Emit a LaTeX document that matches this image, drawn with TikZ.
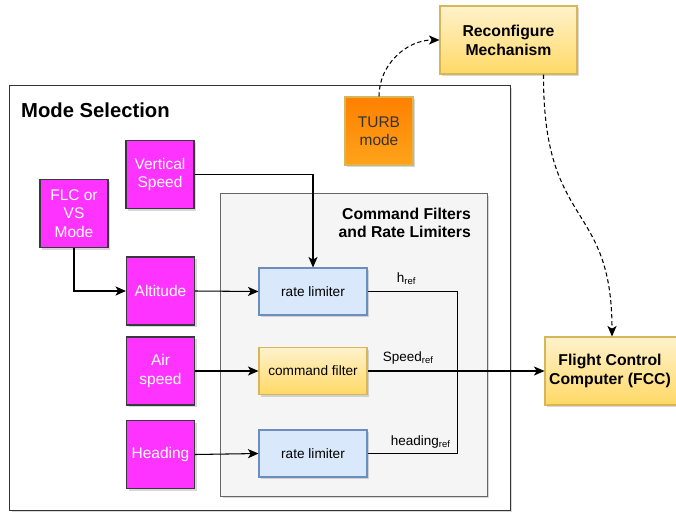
\documentclass[tikz,border=0pt]{standalone}
\usepackage{fontspec}
\setmainfont{Liberation Sans}
\usetikzlibrary{arrows.meta,calc,shadows}

\definecolor{modemag}{HTML}{FF33FF}
\definecolor{magline}{HTML}{36393D}
\definecolor{turbtop}{HTML}{FF8000}
\definecolor{turbbot}{HTML}{FFA31A}
\definecolor{yeltop}{HTML}{FFF2CC}
\definecolor{yelbot}{HTML}{FFD966}
\definecolor{yelline}{HTML}{D6B656}
\definecolor{bluefill}{HTML}{DAE8FC}
\definecolor{blueline}{HTML}{6C8EBF}
\definecolor{grayfill}{HTML}{F5F5F5}
\definecolor{grayline}{HTML}{666666}
\definecolor{txtdark}{HTML}{333333}

\begin{document}
\begin{tikzpicture}[
  x=0.025cm, y=-0.025cm,
  line width=0.75pt,
  boxshadow/.style={drop shadow={shadow xshift=1.6pt, shadow yshift=-1.6pt, opacity=0.3}},
  magbox/.style={draw=magline, fill=modemag, boxshadow, text=white, align=center,
    minimum width=1.7cm, minimum height=1.7cm, inner sep=1pt,
    font=\fontsize{11}{13}\selectfont},
  yelbox/.style={draw=yelline, top color=yeltop, bottom color=yelbot, boxshadow,
    align=center, font=\bfseries\fontsize{11.2}{13.5}\selectfont},
  ratebox/.style={draw=blueline, fill=bluefill, boxshadow,
    minimum width=2.7cm, minimum height=1.175cm, font=\fontsize{9.7}{12}\selectfont},
  sig/.style={font=\fontsize{9.6}{12}\selectfont, inner sep=1pt},
  arr/.style={-{Stealth[length=7.5pt,width=6.5pt,inset=2pt]}},
  dasharr/.style={arr, dashed, dash pattern=on 3pt off 2pt}
]
\useasboundingbox (0,0) rectangle (676,513);

% outer frames
\node[draw=black!80, fill=white, boxshadow, minimum width=12.5cm, minimum height=10.6cm] (mode) at (260,298) {};
\node[anchor=west, font=\bfseries\fontsize{14.4}{17}\selectfont] (modetitle) at (16,110) {Mode Selection};
\node[draw=grayline, fill=grayfill, boxshadow, minimum width=6.65cm, minimum height=7.55cm] (filters) at (354,345) {};
\node[anchor=east, align=right, font=\bfseries\fontsize{11.2}{12.5}\selectfont] (filtertitle) at (476,223) {Command Filters\\and Rate Limiters};

% top blocks
\node[yelbox, minimum width=3.425cm, minimum height=1.7cm] (reconf) at (508.5,40) {Reconfigure\\Mechanism};
\node[draw=yelline, top color=turbtop, bottom color=turbbot, boxshadow, text=txtdark, align=center,
  minimum width=1.7cm, minimum height=1.7cm, font=\fontsize{11}{13}\selectfont] (turb) at (379,131) {TURB\\mode};
\node[yelbox, minimum width=3.625cm, minimum height=1.7cm] (fcc) at (617.5,371) {};
\node[align=center, font=\bfseries\fontsize{11.2}{13.5}\selectfont] (fcctext) at (610,371) {Flight Control\\Computer (FCC)};

% mode inputs
\node[magbox] (vs) at (160,174.5) {Vertical\\Speed};
\node[magbox] (flc) at (74,213.5) {FLC or\\VS\\Mode};
\node[magbox] (alt) at (160.5,291) {Altitude};
\node[magbox] (air) at (160.5,371) {Air\\speed};
\node[magbox] (hdg) at (160.5,454.5) {Heading};

% filters
\node[ratebox] (rl1) at (313,291.5) {rate limiter};
\node[ratebox, draw=yelline, top color=yeltop, bottom color=yelbot] (cf) at (313,371) {command filter};
\node[ratebox] (rl2) at (313,453.5) {rate limiter};

% connectors
\draw[arr] (vs.east) -| (rl1.north);
\draw[arr] (flc.south) |- (alt.west);
\draw[arr] (alt.east) -- (rl1.west);
\draw[arr] (air.east) -- (cf.west);
\draw[arr] (hdg.east) -- (rl2.west);
\draw (rl1.east) -- ++(90,0) coordinate (bend) |- (rl2.east);
\draw[arr] (cf.east) -- (fcc.west);

\node[sig, anchor=south west] (href) at (395,287) {h\textsubscript{ref}};
\node[sig, anchor=south west] (speedref) at (381,366) {Speed\textsubscript{ref}};
\node[sig, anchor=south west] (headref) at (389,450) {heading\textsubscript{ref}};

% reconfiguration path
\draw[dasharr] (turb.north) to[out=90, in=180] (reconf.west);
\draw[dasharr] ($(reconf.south)+(35,0)$) .. controls (543,230) and (612,200) .. ($(fcc.north)+(-5.5,0)$);
\end{tikzpicture}
\end{document}
